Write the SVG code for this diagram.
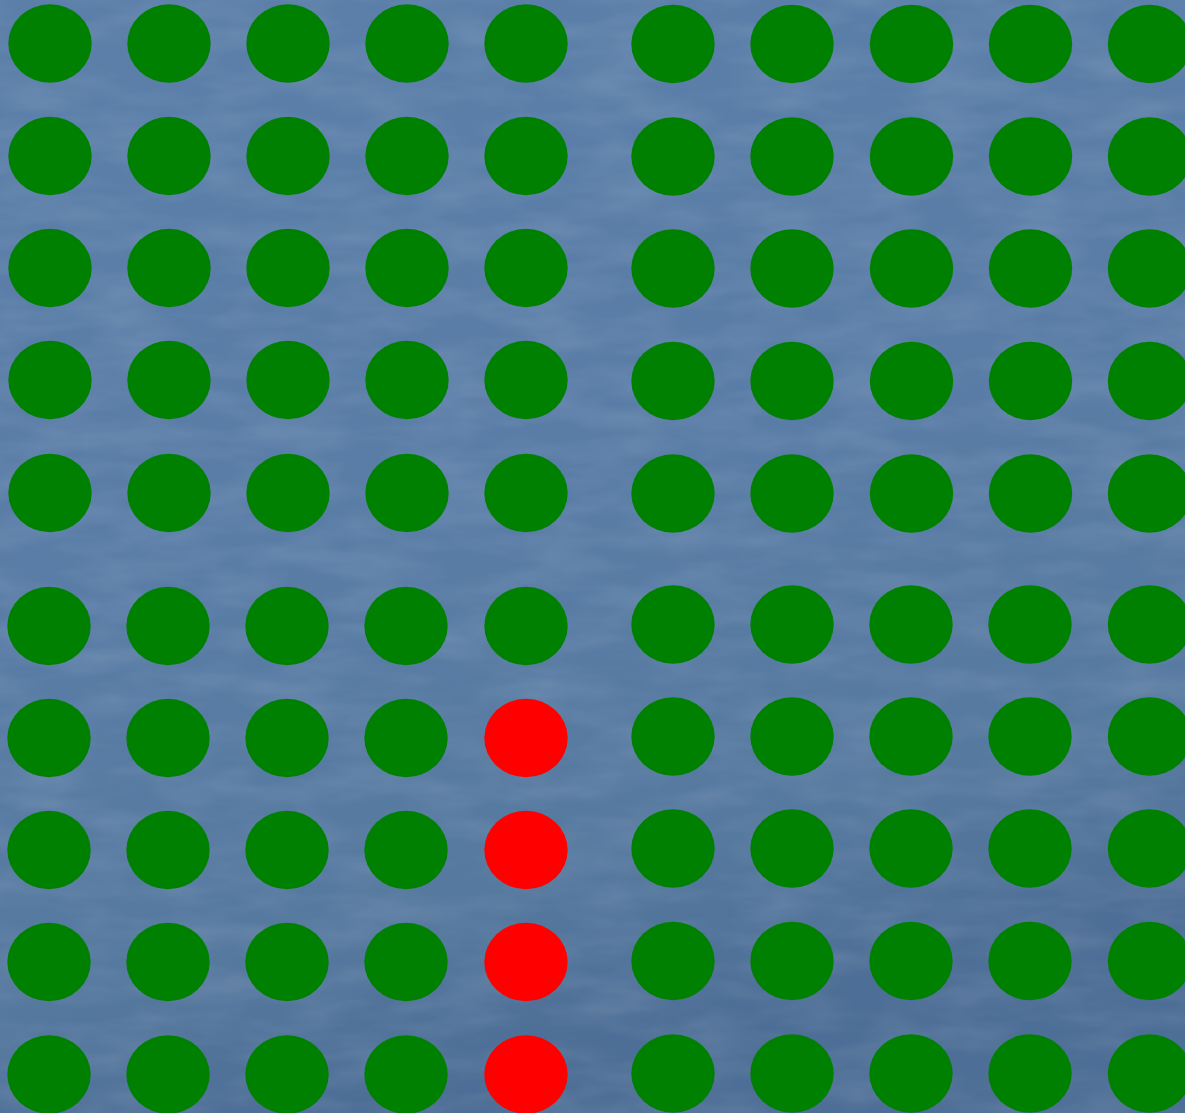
<svg xmlns="http://www.w3.org/2000/svg" width="1185" height="1113" viewBox="0 0 1185 1113">
<defs>
<linearGradient id="bg" x1="0" y1="0" x2="0.25" y2="1">
<stop offset="0" stop-color="#5b7fa9"/>
<stop offset="0.5" stop-color="#5a7da7"/>
<stop offset="0.85" stop-color="#56799f"/>
<stop offset="1" stop-color="#4d6e96"/>
</linearGradient>
<filter id="tex" x="0" y="0" width="100%" height="100%">
<feTurbulence type="fractalNoise" baseFrequency="0.012 0.04" numOctaves="3" seed="4" result="n"/>
<feColorMatrix in="n" type="matrix" values="0 0 0 0 1  0 0 0 0 1  0 0 0 0 1  0 0 0 0.35 -0.12" result="w"/>
<feComposite in="w" in2="SourceGraphic" operator="in"/>
</filter>
<style>
.g{fill:#008000}
.r{fill:#ff0000}
</style>
</defs>
<rect width="1185" height="1113" fill="url(#bg)"/>
<rect width="1185" height="1113" fill="#ffffff" filter="url(#tex)" opacity="0.5"/>
<g id="left-top">
<ellipse class="g" cx="50" cy="43.5" rx="41.7" ry="39.3"/><ellipse class="g" cx="169" cy="43.5" rx="41.7" ry="39.3"/><ellipse class="g" cx="288" cy="43.5" rx="41.7" ry="39.3"/><ellipse class="g" cx="407" cy="43.5" rx="41.7" ry="39.3"/><ellipse class="g" cx="526" cy="43.5" rx="41.7" ry="39.3"/>
<ellipse class="g" cx="50" cy="156" rx="41.7" ry="39.3"/><ellipse class="g" cx="169" cy="156" rx="41.7" ry="39.3"/><ellipse class="g" cx="288" cy="156" rx="41.7" ry="39.3"/><ellipse class="g" cx="407" cy="156" rx="41.7" ry="39.3"/><ellipse class="g" cx="526" cy="156" rx="41.7" ry="39.3"/>
<ellipse class="g" cx="50" cy="268" rx="41.7" ry="39.3"/><ellipse class="g" cx="169" cy="268" rx="41.7" ry="39.3"/><ellipse class="g" cx="288" cy="268" rx="41.7" ry="39.3"/><ellipse class="g" cx="407" cy="268" rx="41.7" ry="39.3"/><ellipse class="g" cx="526" cy="268" rx="41.7" ry="39.3"/>
<ellipse class="g" cx="50" cy="380" rx="41.7" ry="39.3"/><ellipse class="g" cx="169" cy="380" rx="41.7" ry="39.3"/><ellipse class="g" cx="288" cy="380" rx="41.7" ry="39.3"/><ellipse class="g" cx="407" cy="380" rx="41.7" ry="39.3"/><ellipse class="g" cx="526" cy="380" rx="41.7" ry="39.3"/>
<ellipse class="g" cx="50" cy="493" rx="41.7" ry="39.3"/><ellipse class="g" cx="169" cy="493" rx="41.7" ry="39.3"/><ellipse class="g" cx="288" cy="493" rx="41.7" ry="39.3"/><ellipse class="g" cx="407" cy="493" rx="41.7" ry="39.3"/><ellipse class="g" cx="526" cy="493" rx="41.7" ry="39.3"/>
</g>
<g id="left-bottom">
<ellipse class="g" cx="49" cy="626" rx="41.7" ry="39.3"/><ellipse class="g" cx="168" cy="626" rx="41.7" ry="39.3"/><ellipse class="g" cx="287" cy="626" rx="41.7" ry="39.3"/><ellipse class="g" cx="406" cy="626" rx="41.7" ry="39.3"/><ellipse class="g" cx="526" cy="626" rx="41.7" ry="39.3"/>
<ellipse class="g" cx="49" cy="738" rx="41.7" ry="39.3"/><ellipse class="g" cx="168" cy="738" rx="41.7" ry="39.3"/><ellipse class="g" cx="287" cy="738" rx="41.7" ry="39.3"/><ellipse class="g" cx="406" cy="738" rx="41.7" ry="39.3"/><ellipse class="r" cx="526" cy="738" rx="41.7" ry="39.3"/>
<ellipse class="g" cx="49" cy="850" rx="41.7" ry="39.3"/><ellipse class="g" cx="168" cy="850" rx="41.7" ry="39.3"/><ellipse class="g" cx="287" cy="850" rx="41.7" ry="39.3"/><ellipse class="g" cx="406" cy="850" rx="41.7" ry="39.3"/><ellipse class="r" cx="526" cy="850" rx="41.7" ry="39.3"/>
<ellipse class="g" cx="49" cy="962" rx="41.7" ry="39.3"/><ellipse class="g" cx="168" cy="962" rx="41.7" ry="39.3"/><ellipse class="g" cx="287" cy="962" rx="41.7" ry="39.3"/><ellipse class="g" cx="406" cy="962" rx="41.7" ry="39.3"/><ellipse class="r" cx="526" cy="962" rx="41.7" ry="39.3"/>
<ellipse class="g" cx="49" cy="1074.5" rx="41.7" ry="39.3"/><ellipse class="g" cx="168" cy="1074.5" rx="41.7" ry="39.3"/><ellipse class="g" cx="287" cy="1074.5" rx="41.7" ry="39.3"/><ellipse class="g" cx="406" cy="1074.5" rx="41.7" ry="39.3"/><ellipse class="r" cx="526" cy="1074.5" rx="41.7" ry="39.3"/>
</g>
<g id="right-top">
<ellipse class="g" cx="673" cy="44" rx="41.7" ry="39.3"/><ellipse class="g" cx="792" cy="44" rx="41.7" ry="39.3"/><ellipse class="g" cx="911.5" cy="44" rx="41.7" ry="39.3"/><ellipse class="g" cx="1030.5" cy="44" rx="41.7" ry="39.3"/><ellipse class="g" cx="1149.5" cy="44" rx="41.7" ry="39.3"/>
<ellipse class="g" cx="673" cy="156.5" rx="41.7" ry="39.3"/><ellipse class="g" cx="792" cy="156.5" rx="41.7" ry="39.3"/><ellipse class="g" cx="911.5" cy="156.5" rx="41.7" ry="39.3"/><ellipse class="g" cx="1030.5" cy="156.5" rx="41.7" ry="39.3"/><ellipse class="g" cx="1149.5" cy="156.5" rx="41.7" ry="39.3"/>
<ellipse class="g" cx="673" cy="268.5" rx="41.7" ry="39.3"/><ellipse class="g" cx="792" cy="268.5" rx="41.7" ry="39.3"/><ellipse class="g" cx="911.5" cy="268.5" rx="41.7" ry="39.3"/><ellipse class="g" cx="1030.5" cy="268.5" rx="41.7" ry="39.3"/><ellipse class="g" cx="1149.5" cy="268.5" rx="41.7" ry="39.3"/>
<ellipse class="g" cx="673" cy="381" rx="41.7" ry="39.3"/><ellipse class="g" cx="792" cy="381" rx="41.7" ry="39.3"/><ellipse class="g" cx="911.5" cy="381" rx="41.7" ry="39.3"/><ellipse class="g" cx="1030.5" cy="381" rx="41.7" ry="39.3"/><ellipse class="g" cx="1149.5" cy="381" rx="41.7" ry="39.3"/>
<ellipse class="g" cx="673" cy="493.5" rx="41.7" ry="39.3"/><ellipse class="g" cx="792" cy="493.5" rx="41.7" ry="39.3"/><ellipse class="g" cx="911.5" cy="493.5" rx="41.7" ry="39.3"/><ellipse class="g" cx="1030.5" cy="493.5" rx="41.7" ry="39.3"/><ellipse class="g" cx="1149.5" cy="493.5" rx="41.7" ry="39.3"/>
</g>
<g id="right-bottom">
<ellipse class="g" cx="673" cy="624.5" rx="41.7" ry="39.3"/><ellipse class="g" cx="792" cy="624.5" rx="41.7" ry="39.3"/><ellipse class="g" cx="911" cy="624.5" rx="41.7" ry="39.3"/><ellipse class="g" cx="1030" cy="624.5" rx="41.7" ry="39.3"/><ellipse class="g" cx="1149.5" cy="624.5" rx="41.7" ry="39.3"/>
<ellipse class="g" cx="673" cy="736.5" rx="41.7" ry="39.3"/><ellipse class="g" cx="792" cy="736.5" rx="41.7" ry="39.3"/><ellipse class="g" cx="911" cy="736.5" rx="41.7" ry="39.3"/><ellipse class="g" cx="1030" cy="736.5" rx="41.7" ry="39.3"/><ellipse class="g" cx="1149.5" cy="736.5" rx="41.7" ry="39.3"/>
<ellipse class="g" cx="673" cy="848.5" rx="41.7" ry="39.3"/><ellipse class="g" cx="792" cy="848.5" rx="41.7" ry="39.3"/><ellipse class="g" cx="911" cy="848.5" rx="41.7" ry="39.3"/><ellipse class="g" cx="1030" cy="848.5" rx="41.7" ry="39.3"/><ellipse class="g" cx="1149.5" cy="848.5" rx="41.7" ry="39.3"/>
<ellipse class="g" cx="673" cy="961" rx="41.7" ry="39.3"/><ellipse class="g" cx="792" cy="961" rx="41.7" ry="39.3"/><ellipse class="g" cx="911" cy="961" rx="41.7" ry="39.3"/><ellipse class="g" cx="1030" cy="961" rx="41.7" ry="39.3"/><ellipse class="g" cx="1149.5" cy="961" rx="41.7" ry="39.3"/>
<ellipse class="g" cx="673" cy="1073.5" rx="41.7" ry="39.3"/><ellipse class="g" cx="792" cy="1073.5" rx="41.7" ry="39.3"/><ellipse class="g" cx="911" cy="1073.5" rx="41.7" ry="39.3"/><ellipse class="g" cx="1030" cy="1073.5" rx="41.7" ry="39.3"/><ellipse class="g" cx="1149.5" cy="1073.5" rx="41.7" ry="39.3"/>
</g>
</svg>
